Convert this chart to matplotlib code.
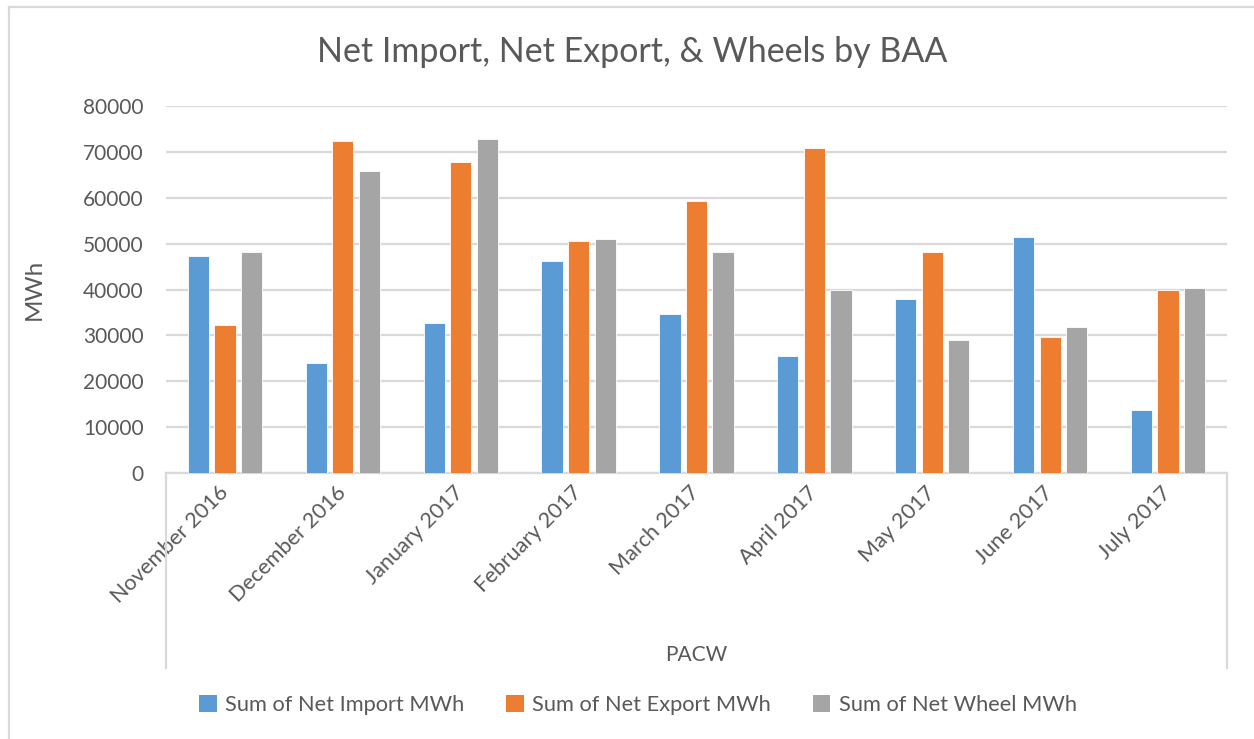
import matplotlib
matplotlib.use("Agg")
import matplotlib.pyplot as plt
import numpy as np
from matplotlib.lines import Line2D
from matplotlib.patches import Patch

months = ["November 2016", "December 2016", "January 2017", "February 2017",
          "March 2017", "April 2017", "May 2017", "June 2017", "July 2017"]
net_import = [47200, 24000, 32800, 46300, 34700, 25400, 37900, 51400, 13700]
net_export = [32300, 72300, 67700, 50500, 59300, 70900, 48100, 29600, 39800]
net_wheel = [48100, 65800, 72800, 50900, 48100, 39800, 29100, 31900, 40300]
series_names = ["Sum of Net Import MWh", "Sum of Net Export MWh", "Sum of Net Wheel MWh"]
colors = ["#5B9BD5", "#ED7D31", "#A5A5A5"]
yticks = [0, 10000, 20000, 30000, 40000, 50000, 60000, 70000, 80000]

plt.rcParams["font.family"] = ["Lato", "DejaVu Sans"]
TXT = "#595959"
GRID = "#D9D9D9"

W, H = 1254, 739
fig = plt.figure(figsize=(W / 100, H / 100), dpi=100)
ax = fig.add_axes([166 / W, 1 - 473 / H, (1227 - 166) / W, (473 - 106) / H])

x = np.arange(len(months))
step = 0.225
bw = 0.18
for i, (vals, c) in enumerate(zip([net_import, net_export, net_wheel], colors)):
    ax.bar(x + (i - 1) * step, vals, width=bw, color=c, edgecolor="white",
           linewidth=0.6, zorder=3)

ax.set_xlim(-0.5, len(months) - 0.5)
ax.set_ylim(0, 80000)
ax.set_yticks(yticks)
ax.set_yticklabels([str(v) for v in yticks], fontsize=15, color=TXT)
ax.tick_params(axis="y", length=0, pad=16)
ax.yaxis.grid(True, color=GRID, linewidth=1.6, zorder=0)
ax.set_axisbelow(True)
for s in ["top", "right", "left"]:
    ax.spines[s].set_visible(False)
ax.spines["bottom"].set_color(GRID)
ax.spines["bottom"].set_linewidth(1.6)

ax.set_xticks(x)
ax.set_xticklabels(months, rotation=45, ha="right", va="center",
                   rotation_mode="anchor", fontsize=15.6, color=TXT)
ax.tick_params(axis="x", length=0, pad=12)

ax.set_ylabel("MWh", fontsize=17.5, color=TXT, labelpad=28)

# category group box under the axis
ybot = (473 - 668) / (473 - 106)
for xa in (0, 1):
    ax.add_line(Line2D([xa, xa], [0, ybot], transform=ax.transAxes,
                       color=GRID, linewidth=1.6, clip_on=False))
ax.text(0.5, (473 - 655) / (473 - 106), "PACW", transform=ax.transAxes,
        ha="center", va="center", fontsize=15, color=TXT)

fig.text(632 / W, 1 - 52 / H, "Net Import, Net Export, & Wheels by BAA",
         ha="center", va="center", fontsize=24.5, color=TXT)

handles = [Patch(facecolor=c, edgecolor="none") for c in colors]
fig.legend(handles, series_names, loc="center", bbox_to_anchor=(638 / W, 1 - 705 / H),
           ncol=3, frameon=False, fontsize=15.7, labelcolor=TXT,
           handlelength=0.8, handleheight=0.8, handletextpad=0.4, columnspacing=1.9)

# chart frame
fig.add_artist(Line2D([9 / W, 9 / W], [0, 1 - 7 / H], color=GRID, linewidth=1.6))
fig.add_artist(Line2D([9 / W, 1], [1 - 7 / H, 1 - 7 / H], color=GRID, linewidth=1.6))

fig.savefig("out.png", dpi=100, facecolor="white")
